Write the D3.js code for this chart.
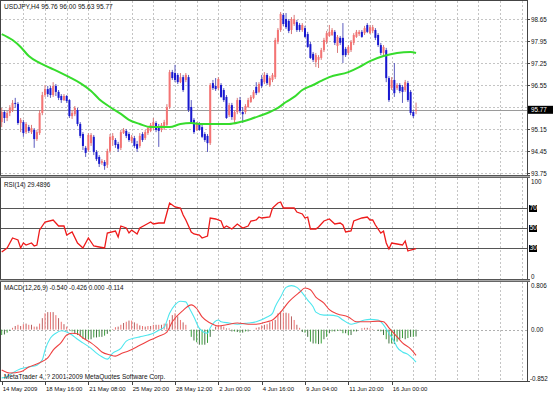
<!DOCTYPE html>
<html><head><meta charset="utf-8">
<script src="https://cdn.jsdelivr.net/npm/d3@7"></script>
<style>html,body{margin:0;padding:0;background:#fff;}svg{display:block;font-family:"Liberation Sans",Arial,sans-serif;}</style>
</head><body><svg id="c" width="553" height="393"></svg>
<script>
// ---- DATA ----
const symbolTitle = "USDJPY,H4  95.76 96.00 95.63 95.77";
const rsiTitle = "RSI(14) 29.4896";
const macdTitle = "MACD(12,26,9) -0.540 -0.426 0.000 -0.114";
const copyright = "MetaTrader 4, ? 2001-2009 MetaQuotes Software Corp.";
const currentPrice = 95.77;
// [open, high, low, close] per H4 bar
const ohlc = [
[95.38,95.83,95.22,95.70],[95.70,95.76,95.35,95.51],[95.51,95.73,95.41,95.67],[95.67,95.92,95.57,95.83],
[95.76,96.08,95.70,95.99],[95.99,96.15,95.83,95.96],[95.96,96.02,95.29,95.35],[95.35,95.51,95.06,95.45],
[95.38,95.45,94.91,95.03],[95.06,95.38,95.00,95.32],[95.22,95.29,95.03,95.10],[95.06,95.29,95.00,95.19],
[95.13,95.19,94.56,94.84],[94.84,95.13,94.78,95.06],[95.03,95.76,94.97,95.67],[95.67,96.34,95.60,96.24],
[96.24,96.56,96.18,96.43],[96.43,96.53,96.18,96.27],[96.46,96.53,96.15,96.24],[96.24,96.65,96.18,96.53],
[96.53,96.59,96.21,96.34],[96.34,96.40,96.08,96.15],[96.21,96.27,95.99,96.08],[96.08,96.27,96.05,96.21],
[96.21,96.24,95.99,96.05],[96.08,96.11,95.51,95.57],[95.57,95.76,95.48,95.67],[95.63,95.89,95.57,95.83],
[95.76,95.83,95.25,95.32],[95.32,95.38,94.87,94.94],[95.00,95.06,94.49,94.62],[94.56,94.62,94.27,94.40],
[94.49,95.03,94.43,94.97],[94.71,95.03,94.62,94.97],[94.91,94.97,94.33,94.43],[94.43,94.49,94.14,94.20],
[94.27,94.33,93.95,94.05],[94.08,94.20,94.02,94.14],[94.11,94.17,93.86,93.98],[94.02,94.53,93.92,94.46],
[94.46,95.00,94.40,94.91],[94.81,95.03,94.62,94.94],[94.81,94.87,94.56,94.65],[94.68,94.75,94.43,94.53],
[94.56,95.13,94.49,95.06],[95.03,95.19,95.00,95.13],[95.10,95.16,94.87,94.94],[95.00,95.06,94.75,94.81],
[94.78,94.97,94.71,94.91],[94.87,94.94,94.56,94.62],[94.68,94.78,94.43,94.53],[94.62,95.03,94.56,94.94],
[95.00,95.06,94.75,94.81],[94.87,95.13,94.81,95.06],[95.03,95.25,94.97,95.19],[95.10,95.35,95.06,95.29],
[95.19,95.51,95.13,95.38],[95.35,95.41,95.06,95.13],[95.25,95.32,94.59,95.10],[95.13,95.35,95.06,95.29],
[95.19,95.45,95.13,95.38],[95.29,95.95,95.22,95.86],[95.86,97.04,95.80,96.97],[96.97,97.04,96.72,96.78],
[96.94,97.20,96.65,96.72],[96.88,96.94,96.59,96.65],[96.65,96.94,96.62,96.81],[96.81,96.88,96.34,96.40],
[96.72,96.94,96.65,96.88],[96.81,96.88,95.70,95.76],[95.86,96.08,95.32,95.38],[95.45,95.51,95.00,95.06],
[95.13,95.38,95.10,95.32],[95.32,95.38,95.10,95.13],[95.22,95.29,94.87,94.91],[95.00,95.06,94.75,94.81],
[94.94,95.00,94.43,94.71],[94.71,96.62,94.65,96.56],[96.62,96.72,96.40,96.46],[96.53,96.78,96.37,96.43],
[96.46,96.81,96.40,96.75],[96.56,96.62,96.15,96.18],[96.40,96.46,96.02,96.08],[96.18,96.24,95.48,95.51],
[95.60,95.99,95.54,95.92],[95.92,95.99,95.45,95.54],[95.45,95.76,95.35,95.70],[95.70,96.15,95.63,96.08],
[96.08,96.18,95.67,95.73],[95.70,95.86,95.35,95.63],[95.70,95.95,95.63,95.89],[95.86,96.15,95.83,96.08],
[96.02,96.24,95.99,96.18],[96.15,96.40,96.11,96.34],[96.50,96.65,96.24,96.30],[96.34,96.65,96.30,96.59],
[96.75,96.88,96.46,96.53],[96.65,96.97,96.59,96.88],[96.88,96.94,96.56,96.62],[96.56,96.84,96.50,96.78],
[96.72,96.94,96.65,96.88],[96.81,98.06,96.75,97.99],[97.93,98.37,97.86,98.31],[98.31,98.88,98.25,98.82],
[98.79,98.85,98.44,98.50],[98.66,98.85,98.34,98.40],[98.60,98.66,98.21,98.28],[98.31,98.72,98.18,98.66],
[98.50,98.79,98.44,98.66],[98.56,98.63,98.25,98.31],[98.47,98.53,98.25,98.31],[98.31,98.53,98.25,98.47],
[98.37,98.44,98.06,98.09],[98.18,98.25,97.74,97.77],[97.86,97.93,97.39,97.42],[97.55,97.61,97.29,97.36],
[97.29,97.58,97.13,97.51],[97.36,97.51,97.10,97.45],[97.42,97.74,97.36,97.67],[97.67,98.06,97.61,97.99],
[97.93,98.28,97.86,98.21],[98.12,98.47,98.09,98.25],[98.15,98.37,98.12,98.31],[98.25,98.31,97.83,97.90],
[97.80,98.15,97.58,98.09],[98.06,98.12,97.83,97.90],[98.06,98.53,97.26,97.51],[97.71,97.77,97.45,97.51],
[97.58,97.83,97.51,97.77],[97.67,97.99,97.61,97.93],[97.90,98.21,97.83,98.15],[98.09,98.31,98.06,98.25],
[98.18,98.31,98.12,98.25],[98.25,98.31,98.06,98.09],[98.21,98.44,98.15,98.37],[98.47,98.53,98.21,98.25],
[98.21,98.47,98.18,98.40],[98.28,98.47,98.21,98.40],[98.31,98.37,97.99,98.06],[98.15,98.21,97.77,97.83],
[97.83,97.90,97.51,97.58],[97.58,97.83,97.51,97.77],[97.67,97.74,96.65,96.78],[96.78,96.84,96.02,96.08],
[96.46,96.81,96.40,96.72],[96.72,97.26,96.18,96.30],[96.46,96.62,96.40,96.56],[96.56,96.62,96.30,96.37],
[96.50,96.56,95.99,96.34],[96.40,96.72,96.34,96.65],[96.62,96.69,96.02,96.08],[96.34,96.40,95.60,95.67],
[95.70,95.76,95.51,95.57],[95.76,96.00,95.63,95.77]
];
// moving average [bar, value]
const maPts = [[0,98.18],[4,97.99],[7,97.77],[10,97.48],[14,97.26],[18,97.10],[22,96.94],[25,96.81],[29,96.62],
[33,96.37],[36,96.11],[40,95.86],[44,95.64],[47,95.45],[51,95.32],[55,95.22],[58,95.22],[62,95.22],[66,95.32],
[70,95.35],[73,95.32],[77,95.32],[81,95.32],[84,95.32],[88,95.38],[92,95.48],[95,95.57],[99,95.70],[102,95.83],
[105,96.02],[108,96.18],[111,96.40],[115,96.56],[118,96.69],[121,96.81],[128,96.97],[132,97.13],[136,97.32],
[141,97.48],[146,97.58],[151,97.61],[153,97.58]];
// RSI(14) [bar, value]
const rsiPts = [[0,26],[2,30],[4,40],[6,38],[7,30],[8,35],[9,33],[11,35],[12,32],[13,33],[14,48],[16,56],[19,58],
[21,52],[23,52],[24,43],[26,46],[28,35],[30,30],[32,40],[34,32],[36,31],[38,30],[39,45],[42,47],[43,41],[44,52],
[46,50],[47,45],[48,48],[50,44],[51,50],[53,53],[55,56],[56,54],[58,55],[60,55],[61,65],[62,75],[64,71],[66,70],
[67,63],[68,58],[70,46],[71,44],[73,43],[74,40],[76,42],[77,60],[79,59],[81,57],[82,50],[83,52],[85,49],[87,54],
[89,50],[91,52],[92,57],[94,58],[95,61],[96,60],[99,61],[100,70],[102,75],[103,76],[104,70],[106,70],[108,70],
[109,66],[111,64],[112,60],[113,61],[114,49],[116,49],[117,51],[119,57],[121,59],[123,54],[125,55],[126,53],
[127,46],[129,47],[130,57],[133,60],[135,61],[136,58],[137,58],[138,53],[140,45],[141,47],[142,35],[143,29],
[144,35],[146,34],[148,33],[149,37],[150,27],[151,28],[153,29.49]];
// MACD main line [bar, value]
const macdMain = [[0,-0.80],[2,-0.78],[4,-0.72],[7,-0.65],[10,-0.62],[13,-0.59],[15,-0.50],[16,-0.34],[18,-0.14],
[20,-0.06],[22,-0.02],[24,-0.04],[26,-0.09],[28,-0.16],[30,-0.22],[33,-0.31],[35,-0.39],[37,-0.45],[39,-0.49],
[41,-0.39],[44,-0.31],[46,-0.19],[49,-0.14],[51,-0.12],[54,-0.09],[56,-0.06],[58,-0.01],[60,0.04],[62,0.27],
[64,0.41],[66,0.47],[68,0.46],[69,0.38],[71,0.21],[73,0.02],[76,-0.06],[77,0.03],[80,0.16],[81,0.13],[84,0.11],
[87,0.09],[91,0.11],[94,0.13],[98,0.21],[100,0.27],[101,0.38],[103,0.54],[105,0.70],[107,0.73],[109,0.70],
[111,0.61],[113,0.49],[115,0.38],[116,0.29],[119,0.24],[121,0.24],[124,0.22],[126,0.16],[129,0.09],[131,0.11],
[134,0.16],[136,0.17],[139,0.16],[141,0.08],[143,-0.06],[145,-0.20],[146,-0.29],[148,-0.37],[150,-0.41],
[152,-0.49],[153,-0.54]];
// MACD signal line [bar, value]
const macdSignal = [[0,-0.67],[3,-0.72],[7,-0.70],[10,-0.62],[14,-0.55],[17,-0.47],[19,-0.34],[22,-0.21],[24,-0.09],
[26,-0.06],[28,-0.07],[30,-0.14],[33,-0.22],[35,-0.29],[37,-0.37],[40,-0.42],[42,-0.44],[44,-0.40],[47,-0.35],
[51,-0.26],[55,-0.17],[58,-0.11],[61,-0.04],[63,0.13],[67,0.32],[70,0.41],[72,0.35],[74,0.21],[77,0.11],[80,0.06],
[83,0.08],[87,0.11],[91,0.09],[94,0.09],[98,0.13],[100,0.16],[103,0.29],[106,0.46],[110,0.62],[112,0.69],
[114,0.66],[116,0.54],[119,0.44],[121,0.33],[124,0.26],[128,0.21],[131,0.13],[135,0.13],[139,0.14],[141,0.13],
[143,0.03],[146,-0.12],[148,-0.22],[151,-0.32],[153,-0.426]];
// MACD histogram per bar
const macdHist = [-0.09,-0.08,-0.05,-0.02,0.03,0.06,0.08,0.06,0.09,0.10,0.08,0.08,0.05,0.05,0.10,0.19,0.27,0.29,0.29,0.29,
0.24,0.19,0.13,0.09,0.05,0.01,-0.03,-0.06,-0.09,-0.11,-0.15,-0.17,-0.16,-0.16,-0.13,-0.13,-0.12,-0.12,-0.10,-0.07,
-0.03,0.01,0.04,0.05,0.08,0.11,0.13,0.15,0.15,0.12,0.10,0.07,0.06,0.05,0.06,0.06,0.08,0.08,0.08,0.08,
0.10,0.10,0.16,0.24,0.27,0.22,0.16,0.12,0.08,0.00,-0.12,-0.18,-0.21,-0.25,-0.25,-0.25,-0.22,-0.12,-0.02,0.05,
0.08,0.06,0.05,0.02,0.02,-0.03,-0.03,-0.04,-0.05,-0.05,-0.03,-0.03,0.00,0.00,0.03,0.04,0.07,0.08,0.09,0.12,
0.14,0.16,0.27,0.30,0.28,0.28,0.27,0.22,0.16,0.08,0.03,-0.04,-0.05,-0.12,-0.20,-0.23,-0.23,-0.24,-0.23,-0.16,
-0.12,-0.06,-0.03,-0.03,-0.02,-0.02,-0.06,-0.06,-0.09,-0.09,-0.03,-0.03,0.00,0.02,0.03,0.03,0.02,0.01,0.00,-0.02,
-0.03,-0.09,-0.16,-0.23,-0.23,-0.24,-0.20,-0.16,-0.14,-0.16,-0.14,-0.12,-0.12,-0.114];
const priceTicks = [98.65,97.95,97.25,96.55,95.85,95.15,94.45,93.75];
const rsiLevels = [70,50,30];
const rsiAxisLabels = ["100","0"];
const macdAxisLabels = ["0.806","0.00","-0.852"];
const timeLabels = ["14 May 2009","18 May 16:00","21 May 08:00","25 May 20:00","28 May 12:00","2 Jun 00:00","4 Jun 16:00","9 Jun 04:00","11 Jun 20:00","16 Jun 00:00"];
const timeLabelBars = [0,16,32,48,64,80,96,112,128,144];

// ---- LAYOUT ----
const svg = d3.select("#c");
const R = 527; // right edge of plotting area
const main = {top:1, bottom:175}, rsiP = {top:178, bottom:279}, macdP = {top:282, bottom:381};
const x = d3.scaleLinear().domain([0,194]).range([1.7, 1.7+194*2.708]);
const yP = d3.scaleLinear().domain([93.75,98.65]).range([173.3,19.3]);
const yR = d3.scaleLinear().domain([0,100]).range([278,178]);
const yM = d3.scaleLinear().domain([-0.852,0.806]).range([381,281]);
const FS = 6.3, TXT = "#111";

svg.append("rect").attr("width",553).attr("height",393).attr("fill","#fff");

// vertical grid in every panel
const gridBars = d3.range(8,195,8);
[main, rsiP, macdP].forEach(p=>{
  svg.append("g").selectAll("line").data(gridBars).join("line")
    .attr("x1",d=>Math.round(x(d))+0.5).attr("x2",d=>Math.round(x(d))+0.5)
    .attr("y1",p.top).attr("y2",p.bottom)
    .attr("stroke","#c4c4c4").attr("stroke-dasharray","2,2").attr("stroke-width",1);
});
// horizontal grid main
svg.append("g").selectAll("line").data(priceTicks).join("line")
  .attr("x1",1).attr("x2",R).attr("y1",d=>Math.round(yP(d))+0.5).attr("y2",d=>Math.round(yP(d))+0.5)
  .attr("stroke","#c4c4c4").attr("stroke-dasharray","2,2");
// macd zero dashed
svg.append("line").attr("x1",1).attr("x2",R).attr("y1",Math.round(yM(0))+0.5).attr("y2",Math.round(yM(0))+0.5)
  .attr("stroke","#b0b0b0").attr("stroke-dasharray","2,2");
// current price line
svg.append("line").attr("x1",1).attr("x2",R).attr("y1",Math.round(yP(currentPrice))+0.5).attr("y2",Math.round(yP(currentPrice))+0.5)
  .attr("stroke","#9a9a9a");

// ---- CANDLES ----
const cg = svg.append("g");
cg.selectAll("line").data(ohlc).join("line")
  .attr("x1",(d,i)=>x(i)).attr("x2",(d,i)=>x(i))
  .attr("y1",d=>yP(d[1])).attr("y2",d=>yP(d[2]))
  .attr("stroke",d=>d[3]>=d[0]?"#d46a6a":"#4a4ab8").attr("stroke-width",0.9);
cg.selectAll("rect").data(ohlc).join("rect")
  .attr("x",(d,i)=>x(i)-1).attr("width",2)
  .attr("y",d=>yP(Math.max(d[0],d[3])))
  .attr("height",d=>Math.max(1,Math.abs(yP(d[0])-yP(d[3]))))
  .attr("fill",d=>d[3]>=d[0]?"#f47474":"#1818d0");

// MA
svg.append("path").datum(maPts)
  .attr("d",d3.line().x(d=>x(d[0])).y(d=>yP(d[1])).curve(d3.curveMonotoneX))
  .attr("fill","none").attr("stroke","#36dc2c").attr("stroke-width",2);

// ---- RSI ----
svg.append("g").selectAll("line").data(rsiLevels).join("line")
  .attr("x1",1).attr("x2",R).attr("y1",d=>yR(d)+0.5).attr("y2",d=>yR(d)+0.5)
  .attr("stroke","#555");
svg.append("path").datum(rsiPts)
  .attr("d",d3.line().x(d=>x(d[0])).y(d=>yR(d[1])))
  .attr("fill","none").attr("stroke","#ee1a1a").attr("stroke-width",1.3);

// ---- MACD ----
svg.append("g").selectAll("line").data(macdHist).join("line")
  .attr("x1",(d,i)=>x(i)).attr("x2",(d,i)=>x(i))
  .attr("y1",yM(0)).attr("y2",d=>yM(d))
  .attr("stroke",(d,i)=>d>=0?(i%2?"#b86060":"#f07070"):(i%2?"#3f7040":"#38a038")).attr("stroke-width",1);
svg.append("path").datum(macdMain)
  .attr("d",d3.line().x(d=>x(d[0])).y(d=>yM(d[1])).curve(d3.curveMonotoneX))
  .attr("fill","none").attr("stroke","#4ee6ee").attr("stroke-width",1.1);
svg.append("path").datum(macdSignal)
  .attr("d",d3.line().x(d=>x(d[0])).y(d=>yM(d[1])).curve(d3.curveMonotoneX))
  .attr("fill","none").attr("stroke","#ee4040").attr("stroke-width",1.1);

// ---- FRAMES ----
const fr = svg.append("g").attr("stroke-width",1);
fr.append("line").attr("x1",0.5).attr("x2",0.5).attr("y1",0).attr("y2",381.5).attr("stroke","#444");
fr.append("line").attr("x1",0).attr("x2",R).attr("y1",0.5).attr("y2",0.5).attr("stroke","#444");
fr.append("line").attr("x1",R+0.5).attr("x2",R+0.5).attr("y1",0).attr("y2",382).attr("stroke","#444");
[[175.5,"#555"],[176.5,"#aaa"],[177.5,"#666"],[279.5,"#555"],[280.5,"#aaa"],[281.5,"#666"],[381.5,"#444"]].forEach(([yy,c])=>{
  fr.append("line").attr("x1",0).attr("x2",R+3).attr("y1",yy).attr("y2",yy).attr("stroke",c);
});

// ---- AXES TEXT ----
const t = svg.append("g").attr("font-size",FS).attr("fill",TXT);
t.append("text").attr("x",4).attr("y",9).attr("font-size",6.6).text(symbolTitle);
t.append("text").attr("x",4).attr("y",186.5).text(rsiTitle);
t.append("text").attr("x",4).attr("y",289.5).text(macdTitle);
t.append("text").attr("x",4).attr("y",379).attr("font-size",6.5).text(copyright);

// price axis (the tick hidden behind the current-price box is not labelled)
const cy = yP(currentPrice);
svg.append("g").selectAll("line").data(priceTicks).join("line")
  .attr("x1",R).attr("x2",R+3).attr("y1",d=>Math.round(yP(d))+0.5).attr("y2",d=>Math.round(yP(d))+0.5).attr("stroke","#444");
t.append("g").selectAll("text").data(priceTicks.filter(d=>Math.abs(yP(d)-cy)>8)).join("text")
  .attr("x",531).attr("y",d=>yP(d)+2.3).text(d=>d.toFixed(2));
// current price box
svg.append("rect").attr("x",528).attr("y",cy-4).attr("width",25).attr("height",8).attr("fill","#000");
svg.append("text").attr("x",531).attr("y",cy+2.3).attr("font-size",FS).attr("fill","#fff").text(currentPrice.toFixed(2));

// RSI axis
t.append("text").attr("x",531).attr("y",184).text(rsiAxisLabels[0]);
t.append("text").attr("x",531).attr("y",278.5).text(rsiAxisLabels[1]);
rsiLevels.forEach(v=>{
  svg.append("rect").attr("x",529).attr("y",yR(v)-3).attr("width",8).attr("height",7).attr("fill","#000");
  svg.append("text").attr("x",529.8).attr("y",yR(v)+2.4).attr("font-size",FS).attr("fill","#fff").text(v);
});
// MACD axis
t.append("text").attr("x",531).attr("y",287.5).text(macdAxisLabels[0]);
t.append("text").attr("x",531).attr("y",yM(0)+2.3).text(macdAxisLabels[1]);
t.append("text").attr("x",530).attr("y",381).text(macdAxisLabels[2]);

// time axis
svg.append("g").selectAll("line").data(timeLabelBars).join("line")
  .attr("x1",d=>Math.round(x(d))+0.5).attr("x2",d=>Math.round(x(d))+0.5).attr("y1",382).attr("y2",385).attr("stroke","#444");
t.append("g").selectAll("text").data(timeLabelBars).join("text")
  .attr("x",d=>x(d)+1).attr("y",390.5).attr("font-size",6).text((d,i)=>timeLabels[i]);
</script></body></html>
